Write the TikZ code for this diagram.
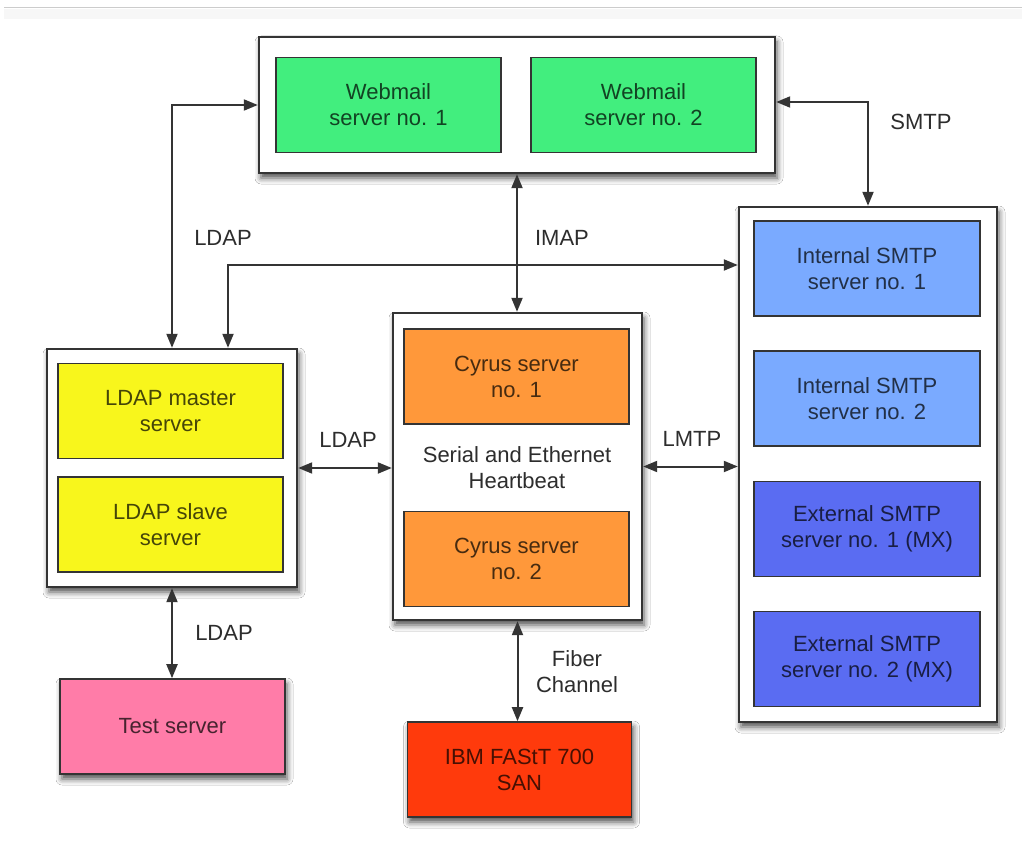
\documentclass[tikz,border=0pt]{standalone}
\usepackage{fontspec}
\setmainfont{Liberation Sans}
\usetikzlibrary{arrows.meta,shadows.blur}

\definecolor{webgreen}{RGB}{66,238,126}
\definecolor{ldapyellow}{RGB}{248,246,28}
\definecolor{cyrusorange}{RGB}{255,152,58}
\definecolor{intblue}{RGB}{122,170,255}
\definecolor{extblue}{RGB}{90,108,242}
\definecolor{testpink}{RGB}{255,124,168}
\definecolor{sanred}{RGB}{255,58,12}
\definecolor{edge}{RGB}{52,52,52}
\definecolor{labelgray}{RGB}{45,45,45}

\tikzset{
  x=1pt, y=-1pt,
  txt/.style={font=\fontsize{22}{26}\selectfont, align=center},
  dropshadow/.style={blur shadow={shadow xshift=2pt, shadow yshift=-5pt,
    shadow blur radius=6pt, shadow opacity=70}},
  outerbox/.style={draw=edge, line width=2.4pt, fill=white, rectangle, dropshadow},
  server/.style={txt, draw=edge, line width=1.6pt, rectangle,
    fill=#1, text=#1!28!black, minimum width=225pt, minimum height=95pt},
  loneserver/.style={server=#1, dropshadow},
  link/.style={draw=edge, line width=2pt,
    {Triangle[length=14pt,width=11pt]}-{Triangle[length=14pt,width=11pt]}},
  proto/.style={txt, text=labelgray},
}

\begin{document}
\begin{tikzpicture}
  % page and header rule
  \fill[white] (0,0) rectangle (1022,853);
  \useasboundingbox (0,0) rectangle (1022,853);
  \fill[black!3] (4,9) rectangle (1022,19);
  \draw[black!20, line width=1.5pt] (4,7.5) -- (1022,7.5);

  % group frames
  \node[outerbox, minimum width=516pt, minimum height=136pt] (web) at (517,105) {};
  \node[outerbox, minimum width=250pt, minimum height=238pt] (ldapbox) at (172,468) {};
  \node[outerbox, minimum width=249pt, minimum height=307pt] (cyrusbox) at (517.5,466.5) {};
  \node[outerbox, minimum width=258pt, minimum height=515pt] (smtpbox) at (868,464.5) {};

  % webmail servers
  \node[server=webgreen] (wm1) at (388.5,105) {Webmail\\server no. 1};
  \node[server=webgreen] (wm2) at (643.5,105) {Webmail\\server no. 2};

  % directory servers
  \node[server=ldapyellow] (ldapm) at (170.5,411) {LDAP master\\server};
  \node[server=ldapyellow] (ldaps) at (170.5,524.5) {LDAP slave\\server};

  % mail store cluster
  \node[server=cyrusorange] (cy1) at (516.5,376.5) {Cyrus server\\no. 1};
  \node[server=cyrusorange] (cy2) at (516.5,559) {Cyrus server\\no. 2};
  \node[proto] (hb) at (517,468) {Serial and Ethernet\\Heartbeat};

  % SMTP servers
  \node[server=intblue, minimum width=226pt] (is1) at (867,268.5) {Internal SMTP\\server no. 1};
  \node[server=intblue, minimum width=226pt] (is2) at (867,398.5) {Internal SMTP\\server no. 2};
  \node[server=extblue, minimum width=226pt] (es1) at (867,529) {External SMTP\\server no. 1 (MX)};
  \node[server=extblue, minimum width=226pt] (es2) at (867,659) {External SMTP\\server no. 2 (MX)};

  % standalone machines
  \node[loneserver=testpink] (test) at (172.5,726.5) {Test server};
  \node[loneserver=sanred, minimum width=224pt] (san) at (519.5,769.5) {IBM FAStT 700\\SAN};

  % connections
  \draw[link] ([yshift=3pt]web.east) -| (smtpbox.north);
  \draw[link] (web.west) -| (ldapbox.north);
  \draw[link] ([xshift=56pt]ldapbox.north) |- ([yshift=3.5pt]smtpbox.west |- is1.west);
  \draw[link] (web.south) -- (web.south |- cyrusbox.north);
  \draw[link] (ldapbox.east) -- (ldapbox.east -| cyrusbox.west);
  \draw[link] (cyrusbox.east) -- (cyrusbox.east -| smtpbox.west);
  \draw[link] (ldapbox.south) -- (ldapbox.south |- test.north);
  \draw[link] (cyrusbox.south) -- (cyrusbox.south |- san.north);

  % protocol labels
  \node[proto] (lsmtp) at (921,122) {SMTP};
  \node[proto] (lldap1) at (223,238) {LDAP};
  \node[proto] (limap) at (562,238) {IMAP};
  \node[proto] (lldap2) at (348,440) {LDAP};
  \node[proto] (llmtp) at (692,439) {LMTP};
  \node[proto] (lldap3) at (224,633) {LDAP};
  \node[proto] (lfiber) at (577,672) {Fiber\\Channel};
\end{tikzpicture}
\end{document}
